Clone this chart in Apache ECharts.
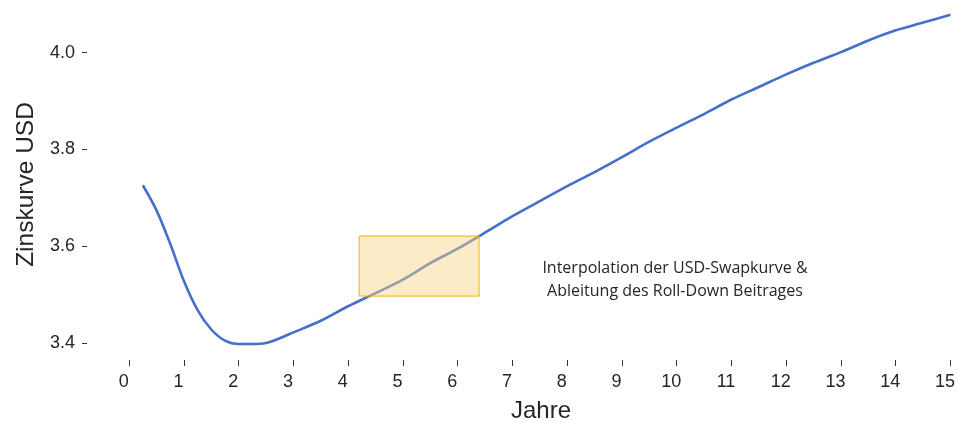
<!DOCTYPE html>
<html>
<head>
<meta charset="utf-8">
<script src="https://cdn.jsdelivr.net/npm/echarts@6/dist/echarts.min.js"></script>
<style>
  html, body { margin: 0; padding: 0; background: #fff; }
  #chart { width: 958px; height: 423px; }
</style>
</head>
<body>
<div id="chart"></div>
<script>
// Laufzeit in Jahren und Zinssatz (USD-Swapkurve)
const tenors = [0.25, 0.5, 0.75, 1, 1.25, 1.5, 1.75, 2, 2.25, 2.5, 2.75, 3, 3.5, 4, 4.5, 5, 5.5, 6, 6.5, 7, 7.5, 8, 8.5, 9, 9.5, 10, 10.5, 11, 11.5, 12, 12.5, 13, 13.5, 14, 14.5, 15];
const rates = [3.726, 3.674, 3.605, 3.528, 3.468, 3.428, 3.405, 3.398, 3.398, 3.400, 3.410, 3.422, 3.446, 3.476, 3.503, 3.531, 3.565, 3.595, 3.628, 3.662, 3.693, 3.724, 3.753, 3.784, 3.816, 3.845, 3.873, 3.903, 3.929, 3.955, 3.979, 4.001, 4.025, 4.046, 4.062, 4.078];

// Roll-Down Fenster (Jahre / Zins)
const rollDownYears = [4.2, 6.39];
const rollDownRates = [3.497, 3.621];

const xTicks = [0, 1, 2, 3, 4, 5, 6, 7, 8, 9, 10, 11, 12, 13, 14, 15];
const yTicks = [3.4, 3.6, 3.8, 4.0];

const note = ['Interpolation der USD-Swapkurve &', 'Ableitung des Roll-Down Beitrages'];

const chart = echarts.init(document.getElementById('chart'));

const txt = '#262626';
const font = 'Liberation Sans, Arial, sans-serif';

chart.setOption({
  animation: false,
  grid: { left: 87, right: 1, top: 9, bottom: 63 },
  xAxis: {
    type: 'value',
    min: -0.77,
    max: 15.05,
    splitLine: { show: false },
    axisLine: { show: false, onZero: false },
    axisTick: { show: true, length: 6, customValues: xTicks, lineStyle: { color: '#333', width: 1 } },
    axisLabel: {
      customValues: xTicks,
      color: txt, fontSize: 18, fontFamily: font,
      margin: 13, padding: [0, 11, 0, 0]
    }
  },
  yAxis: {
    type: 'value',
    min: 3.365,
    max: 4.09,
    name: 'Zinskurve USD',
    nameLocation: 'middle',
    nameGap: 43,
    nameTextStyle: { color: txt, fontSize: 24.5, fontFamily: font },
    splitLine: { show: false },
    axisLine: { show: false, onZero: false },
    axisTick: { show: true, length: 5, customValues: yTicks, lineStyle: { color: '#333', width: 1 } },
    axisLabel: {
      customValues: yTicks,
      color: txt, fontSize: 18, fontFamily: font, margin: 12,
      formatter: v => v.toFixed(1)
    }
  },
  graphic: [
    {
      type: 'text', x: 541, y: 411,
      style: { text: 'Jahre', fill: txt, font: '24px ' + font, align: 'center', verticalAlign: 'middle' }
    },
    {
      type: 'text', x: 675, y: 280,
      style: {
        text: note.join('\n'), fill: '#262626', font: '16px "Open Sans", "Noto Sans", sans-serif',
        align: 'center', verticalAlign: 'middle', lineHeight: 23
      }
    }
  ],
  series: [
    {
      type: 'line',
      data: tenors.map((t, i) => [t, rates[i]]),
      smooth: 0.3,
      showSymbol: false,
      z: 2,
      lineStyle: { color: '#4570c9', width: 2.6 }
    },
    {
      type: 'custom',
      z: 10,
      silent: true,
      data: [[rollDownYears[0], rollDownRates[0], rollDownYears[1], rollDownRates[1]]],
      renderItem: (params, api) => {
        const p0 = api.coord([api.value(0), api.value(3)]);
        const p1 = api.coord([api.value(2), api.value(1)]);
        return {
          type: 'rect',
          shape: { x: p0[0], y: p0[1], width: p1[0] - p0[0], height: p1[1] - p0[1] },
          style: { fill: 'rgba(247, 211, 130, 0.45)', stroke: '#f4b010', lineWidth: 1 }
        };
      }
    }
  ]
});
</script>
</body>
</html>
